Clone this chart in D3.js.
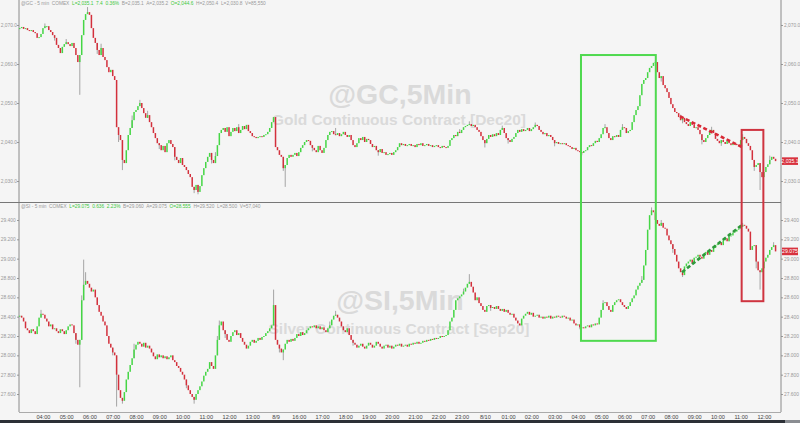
<!DOCTYPE html>
<html><head><meta charset="utf-8">
<script src="https://cdn.jsdelivr.net/npm/d3@7"></script>
<style>body{margin:0;background:#f5f5f5}svg{display:block}</style>
</head><body>
<svg id="c" width="800" height="423"></svg>
<script>
// ---------- DATA ----------
// 5-minute bars: Fri 8/7 03:00-13:55, Sun 8/9 15:00-23:55, Mon 8/10 00:00-12:30 (bar index 0..390)
const goldFirstOpen = 2069.0;
const goldClose = [
2069.2,2069.5,2069.0,2069.2,2068.7,2068.5,2068.7,2068.2,2067.9,2066.7,
2066.9,2067.7,2069.2,2069.7,2069.7,2068.7,2068.2,2067.4,2066.7,2064.9,
2064.1,2062.8,2064.4,2065.1,2065.6,2065.1,2064.6,2065.4,2064.1,2062.3,
2060.5,2062.3,2067.4,2071.3,2072.8,2073.3,2072.6,2069.2,2066.7,2065.4,
2063.6,2062.3,2064.1,2061.8,2061.0,2059.2,2057.9,2058.5,2056.9,2055.9,
2043.8,2041.8,2040.5,2035.4,2034.6,2037.9,2041.8,2043.6,2045.6,2047.7,
2048.2,2049.2,2050.0,2048.7,2047.4,2046.2,2046.9,2045.1,2043.8,2042.3,
2041.0,2039.7,2039.2,2037.9,2039.0,2037.4,2039.7,2040.5,2039.5,2038.7,
2036.2,2035.4,2034.6,2035.9,2034.1,2033.6,2032.8,2031.8,2031.0,2028.5,
2027.7,2029.0,2027.2,2028.7,2031.5,2033.3,2034.9,2036.2,2037.2,2035.4,
2034.6,2036.4,2039.2,2042.3,2043.1,2043.6,2042.6,2043.8,2041.5,2042.6,
2043.6,2042.8,2043.8,2042.3,2043.1,2044.1,2043.3,2044.4,2042.8,2042.3,
2041.5,2041.3,2041.0,2041.3,2041.5,2041.3,2041.8,2042.0,2042.6,2043.6,2045.1,2046.4,
2038.7,2037.9,2036.7,2036.2,2033.3,2034.1,2035.9,2036.7,
2036.2,2036.7,2037.2,2036.4,2037.4,2038.5,2039.2,2040.0,2040.5,2040.3,
2039.2,2038.5,2037.9,2037.4,2039.0,2037.9,2037.2,2038.5,2040.5,2041.8,
2042.6,2042.8,2042.0,2041.8,2042.3,2041.5,2042.0,2042.6,2041.8,2041.3,
2041.8,2040.5,2039.2,2038.7,2039.7,2041.0,2040.5,2041.3,2040.0,2040.8,
2040.5,2039.5,2038.7,2039.0,2037.9,2037.4,2038.2,2037.2,2037.4,2036.7,
2036.9,2037.2,2036.7,2037.4,2037.9,2038.7,2039.7,2039.2,2039.5,2039.0,
2039.2,2039.5,2039.0,2039.2,2038.7,2039.5,2039.2,2039.7,2039.0,2039.2,
2039.5,2039.0,2039.2,2038.7,2039.0,2039.2,2038.7,2038.5,2039.0,2038.7,
2038.5,2039.0,2040.5,2041.0,2041.8,2041.5,2042.6,2042.3,2043.1,2043.8,
2044.1,2044.4,2044.6,2044.1,2044.4,2043.8,2043.1,2042.6,2041.5,2040.5,
2039.7,2040.8,2041.8,2041.3,2042.0,2041.5,2042.3,2041.8,2043.1,2043.6,
2042.3,2041.0,2040.5,2040.0,2040.8,2041.3,2042.3,2043.1,2042.6,2043.3,
2042.8,2043.1,2043.6,2042.8,2043.3,2043.8,2044.4,2044.1,2043.1,2042.6,
2042.0,2042.3,2041.5,2041.8,2041.3,2040.5,2039.7,2040.0,2039.5,2039.7,
2039.5,2039.7,2039.2,2039.0,2038.7,2038.2,2038.5,2037.9,2037.7,2037.4,
2037.2,2037.7,2037.9,2038.7,2039.2,2039.0,2039.7,2040.3,2040.0,2041.0,
2042.0,2043.6,2043.8,2042.3,2041.0,2040.5,2041.5,2041.3,2041.8,2041.3,
2043.1,2043.8,2043.6,2042.3,2042.8,2043.1,2045.1,2046.9,2048.2,2049.2,
2052.0,2054.9,2055.9,2056.4,2057.9,2059.0,2059.5,2060.3,2060.5,2057.9,
2056.4,2056.9,2054.6,2053.8,2052.8,2051.3,2049.7,2048.7,2047.7,2047.4,
2046.4,2045.6,2046.2,2045.1,2044.6,2044.1,2045.1,2044.4,2043.6,2043.8,
2043.1,2042.0,2040.5,2040.0,2041.0,2041.8,2042.8,2043.1,2042.3,2040.8,
2040.3,2039.7,2040.5,2040.0,2039.5,2040.3,2039.7,2039.2,2039.7,2039.5,
2039.2,2039.0,2040.5,2041.3,2040.8,2039.7,2039.0,2037.9,2035.4,2033.6,
2034.1,2034.6,2032.3,2031.0,2032.3,2033.6,2034.3,2035.4,2036.2,2035.7,2035.1
];
const goldHighs = [[35,2074.6],[328,2061.0],[62,2050.8],[232,2045.3],[13,2070.4],[24,2066.4],[42,2065.2],
  [58,2046.8],[66,2048.0],[101,2037.4],[113,2044.6],[163,2043.6],[227,2043.3],[249,2044.2],[266,2045.0],
  [302,2044.6],[311,2044.6],[341,2047.0],[357,2043.9],[373,2042.0],[387,2036.5]];
const goldLows  = [[31,2052.1],[53,2032.8],[90,2026.9],[137,2028.5],[382,2027.7],[92,2026.6],[18,2066.0],
  [40,2062.6],[51,2040.0],[72,2038.2],[80,2035.3],[99,2034.5],[136,2032.6],[151,2037.6],[185,2036.5],
  [240,2038.6],[252,2039.6],[276,2038.9],[290,2036.6],[331,2055.5],[342,2044.8],[352,2039.4],[362,2039.0],[379,2032.6]];

const silverFirstOpen = 28.40;
const silverClose = [
28.41,28.39,28.35,28.28,28.26,28.23,28.27,28.25,28.22,28.30,
28.39,28.43,28.42,28.38,28.35,28.30,28.32,28.27,28.28,28.25,
28.23,28.27,28.25,28.22,28.26,28.30,28.32,28.31,28.23,28.16,
28.11,28.16,28.57,28.73,28.77,28.74,28.70,28.66,28.68,28.60,
28.52,28.45,28.41,28.35,28.31,28.20,28.12,28.08,28.03,28.00,
27.80,27.64,27.56,27.53,27.62,27.75,27.83,27.90,27.97,28.06,
28.11,28.14,28.12,28.09,28.13,28.08,28.10,28.07,28.03,27.99,
27.96,28.01,27.98,28.00,27.97,27.99,27.96,27.98,28.00,27.95,
27.93,27.89,27.87,27.83,27.80,27.75,27.69,27.64,27.60,27.57,
27.54,27.60,27.64,27.68,27.73,27.79,27.83,27.86,27.93,27.89,
27.86,28.00,28.16,28.31,28.35,28.26,28.22,28.16,28.14,28.20,
28.24,28.26,28.21,28.23,28.18,28.14,28.11,28.07,28.10,28.14,
28.16,28.13,28.15,28.18,28.16,28.19,28.20,28.23,28.25,28.28,28.31,28.52,
28.16,28.11,28.07,28.03,28.06,28.12,28.16,28.14,
28.17,28.15,28.18,28.22,28.20,28.24,28.21,28.23,28.26,28.28,
28.30,28.29,28.31,28.28,28.30,28.27,28.29,28.26,28.24,28.28,
28.31,28.37,28.41,28.42,28.39,28.35,28.30,28.26,28.24,28.28,
28.21,28.16,28.13,28.11,28.08,28.10,28.12,28.09,28.07,28.10,
28.13,28.11,28.08,28.10,28.14,28.12,28.09,28.07,28.10,28.11,
28.08,28.10,28.07,28.09,28.11,28.10,28.12,28.09,28.10,28.11,
28.09,28.12,28.11,28.13,28.12,28.14,28.12,28.13,28.15,28.14,
28.16,28.15,28.17,28.16,28.18,28.17,28.18,28.20,28.19,28.20,
28.21,28.26,28.35,28.39,28.47,28.57,28.59,28.61,28.63,28.66,
28.70,28.74,28.76,28.71,28.65,28.57,28.60,28.54,28.51,28.47,
28.45,28.51,28.52,28.49,28.50,28.48,28.51,28.48,28.46,28.48,
28.45,28.47,28.44,28.42,28.43,28.39,28.36,28.33,28.31,28.38,
28.41,28.43,28.45,28.42,28.44,28.40,28.41,28.42,28.39,28.40,
28.38,28.40,28.39,28.41,28.38,28.40,28.39,28.41,28.40,28.39,
28.41,28.40,28.38,28.39,28.36,28.37,28.33,28.31,28.32,28.29,
28.29,28.28,28.30,28.31,28.29,28.32,28.31,28.33,28.32,28.39,
28.47,28.54,28.55,28.51,28.47,28.45,28.52,28.55,28.57,28.58,
28.55,28.52,28.50,28.48,28.51,28.55,28.59,28.62,28.68,28.72,
28.75,28.78,28.93,29.09,29.30,29.45,29.50,29.48,29.40,29.36,
29.34,29.37,29.32,29.31,29.24,29.19,29.15,29.10,29.04,28.97,
28.90,28.86,28.83,28.92,28.95,28.97,28.99,28.95,29.01,29.02,
29.04,29.02,29.00,29.05,29.07,29.04,29.09,29.07,29.11,29.14,
29.15,29.17,29.14,29.19,29.21,29.18,29.23,29.24,29.27,29.28,
29.30,29.31,29.33,29.35,29.34,29.31,29.28,29.09,29.13,29.14,
28.97,28.88,28.86,28.90,28.97,29.01,29.04,29.09,29.12,29.14,29.075
];
const silverHighs = [[33,28.99],[131,28.68],[232,28.84],[326,29.53],[34,28.86],[11,28.47],[32,28.62],[45,28.26],
  [59,28.12],[102,28.20],[103,28.36],[160,28.35],[163,28.46],[229,28.69],[256,28.38],[301,28.57],[321,28.82],
  [331,29.40],[355,29.08],[366,29.26],[373,29.37],[389,29.17]];
const silverLows  = [[31,27.67],[50,27.47],[90,27.50],[136,27.95],[342,28.81],[382,28.68],[53,27.50],[29,28.12],
  [48,28.00],[86,27.66],[106,28.18],[134,28.03],[172,28.10],[243,28.46],[289,28.27],[337,29.06],[348,28.96],[380,28.90]];

// x-axis categories (bar index of each labelled hour)
const timeTickIdx = [12,24,36,48,60,72,84,96,108,120,132,144,156,168,180,192,204,216,228,240,252,264,276,288,300,312,324,336,348,360,372,384];
const timeTickLabels = ["04:00","05:00","06:00","07:00","08:00","09:00","10:00","11:00","12:00","13:00","8/9","16:00","17:00","18:00","19:00","20:00","21:00","22:00","23:00","8/10","01:00","02:00","03:00","04:00","05:00","06:00","07:00","08:00","09:00","10:00","11:00","12:00"];
const goldTicks = [2030,2040,2050,2060,2070];
const silverTicks = [27.6,27.8,28.0,28.2,28.4,28.6,28.8,29.0,29.2,29.4];

// annotations (bar index, price)
const greenBox = {i0:289.6, i1:328.2, goldTop:2062.3, silverBottom:28.15};
const redBox   = {i0:372.5, i1:383.7, goldTop:2043.1, silverBottom:28.56};
const goldTrend   = [[340.7,2046.6],[372.7,2038.7]];
const silverTrend = [[341.7,28.86],[372.7,29.35]];

const goldHeader = [["@GC - 5 min  COMEX  ","#999"],["L=2,035.1  7.4  0.36%  ","#3cc83c"],["B=2,035.1  A=2,035.2  ","#999"],["O=2,044.6  ","#3cc83c"],["H=2,050.4  L=2,030.8  V=85,550","#999"]];
const silverHeader = [["@SI - 5 min  COMEX  ","#999"],["L=29.075  0.636  2.23%  ","#3cc83c"],["B=29.060  A=29.075  ","#999"],["O=28.555  ","#3cc83c"],["H=29.520  L=28.500  V=57,040","#999"]];

// ---------- DRAW ----------
const W=800,H=423;
const svg=d3.select("#c");
const UP="#45d645", DN="#d3303c", WICK="#9c9c9c";
const FONT="Liberation Sans, Arial, sans-serif";
svg.append("rect").attr("width",W).attr("height",H).attr("fill","#f5f5f5");

const x=d3.scaleLinear().domain([0,392.8]).range([19.7,781]);
const yG=d3.scaleLinear().domain([2024.62,2076.41]).range([202,0]);
const yS=d3.scaleLinear().domain([27.414,29.555]).range([412,205]);

// watermarks
function watermark(t1,t2,y1,y2){
  svg.append("text").attr("x",400).attr("y",y1).attr("text-anchor","middle")
    .attr("font-family",FONT).attr("font-weight","bold")
    .attr("font-size",28.5).attr("fill","#dadada").text(t1);
  svg.append("text").attr("x",399).attr("y",y2).attr("text-anchor","middle")
    .attr("font-family",FONT).attr("font-weight","bold")
    .attr("font-size",15.5).attr("fill","#dadada").text(t2);
}
watermark("@GC,5Min","Gold Continuous Contract [Dec20]",104,125);
watermark("@SI,5Min","Silver Continuous Contract [Sep20]",310,334);

// axes
function yAxes(y,ticks,fmt){
  const l=svg.append("g").attr("transform","translate(19,0)")
    .call(d3.axisLeft(y).tickValues(ticks).tickFormat(fmt).tickSize(2).tickPadding(1));
  const r=svg.append("g").attr("transform","translate(781,0)")
    .call(d3.axisRight(y).tickValues(ticks).tickFormat(fmt).tickSize(2).tickPadding(1));
  [l,r].forEach(a=>{a.select(".domain").remove();
    a.selectAll("line").attr("stroke","#999");
    a.selectAll("text").attr("fill","#999").attr("font-size",4.9).attr("font-family",FONT);});
  l.selectAll("text").attr("text-anchor","start").attr("x",-18.3);
}
yAxes(yG,goldTicks,d3.format(",.1f"));
yAxes(yS,silverTicks,d3.format(".3f"));

const xa=svg.append("g").attr("transform","translate(0,412)")
  .call(d3.axisBottom(x).tickValues(timeTickIdx).tickFormat((d,i)=>timeTickLabels[i]).tickSize(0).tickPadding(3));
xa.select(".domain").remove();
xa.selectAll("text").attr("fill","#444").attr("font-size",5.6).attr("font-family",FONT);

// frame lines
svg.append("line").attr("x1",19).attr("x2",19).attr("y1",0).attr("y2",412).attr("stroke","#8a8a8a");
svg.append("line").attr("x1",781).attr("x2",781).attr("y1",0).attr("y2",412).attr("stroke","#8a8a8a");
svg.append("line").attr("x1",0).attr("x2",781).attr("y1",202.5).attr("y2",202.5).attr("stroke","#777");
svg.append("line").attr("x1",19).attr("x2",781).attr("y1",412.5).attr("y2",412.5).attr("stroke","#aaa");
svg.append("rect").attr("x",0).attr("y",420).attr("width",785).attr("height",3).attr("fill","#2c3036");
svg.append("rect").attr("x",785).attr("y",420).attr("width",15).attr("height",3).attr("fill","#8a8d92");

// candles
function candles(closes,firstOpen,highs,lows,y){
  const hi=new Map(highs), lo=new Map(lows);
  const data=closes.map((c,i)=>{const o=i===0?firstOpen:closes[i-1];
    return {i,o,c,h:hi.has(i)?hi.get(i):Math.max(o,c),l:lo.has(i)?lo.get(i):Math.min(o,c)};});
  const g=svg.append("g");
  g.selectAll("line").data(data.filter(d=>d.h>Math.max(d.o,d.c)||d.l<Math.min(d.o,d.c))).join("line")
    .attr("x1",d=>x(d.i)).attr("x2",d=>x(d.i)).attr("y1",d=>y(d.h)).attr("y2",d=>y(d.l))
    .attr("stroke",WICK).attr("stroke-width",0.9);
  g.selectAll("rect").data(data).join("rect")
    .attr("x",d=>x(d.i)-0.75).attr("width",1.5)
    .attr("y",d=>y(Math.max(d.o,d.c)))
    .attr("height",d=>Math.max(1,Math.abs(y(d.o)-y(d.c))))
    .attr("fill",d=>d.c>=d.o?UP:DN);
  return data;
}
candles(goldClose,goldFirstOpen,goldHighs,goldLows,yG);
candles(silverClose,silverFirstOpen,silverHighs,silverLows,yS);

// headers
function header(parts,yy){
  const t=svg.append("text").attr("x",21).attr("y",yy).attr("font-size",4.8)
    .attr("font-family",FONT).attr("xml:space","preserve");
  parts.forEach(p=>t.append("tspan").attr("fill",p[1]).text(p[0]));
}
header(goldHeader,5);
header(silverHeader,208);

// last-price labels
function lastLabel(v,y,fmt){
  const yy=y(v);
  svg.append("rect").attr("x",782).attr("y",yy-3.8).attr("width",16).attr("height",7.6).attr("fill","#d8323e");
  svg.append("text").attr("x",790).attr("y",yy+1.9).attr("text-anchor","middle").attr("font-size",5.2)
    .attr("font-family",FONT).attr("fill","#fff").text(fmt(v));
}
lastLabel(goldClose[goldClose.length-1],yG,d3.format(",.1f"));
lastLabel(silverClose[silverClose.length-1],yS,d3.format(".3f"));

// trend lines
function trend(pts,y,col){
  svg.append("line").attr("x1",x(pts[0][0])).attr("y1",y(pts[0][1])).attr("x2",x(pts[1][0])).attr("y2",y(pts[1][1]))
    .attr("stroke",col).attr("stroke-width",2.6).attr("stroke-dasharray","4,2.5");
}
trend(goldTrend,yG,"#d82a36");
trend(silverTrend,yS,"#2f9a3c");

// boxes
function box(b,col){
  svg.append("rect").attr("x",x(b.i0)).attr("y",yG(b.goldTop)).attr("width",x(b.i1)-x(b.i0))
    .attr("height",yS(b.silverBottom)-yG(b.goldTop)).attr("fill","none").attr("stroke",col).attr("stroke-width",2);
}
box(greenBox,"#4fd94f");
box(redBox,"#cf3440");
</script>
</body></html>
